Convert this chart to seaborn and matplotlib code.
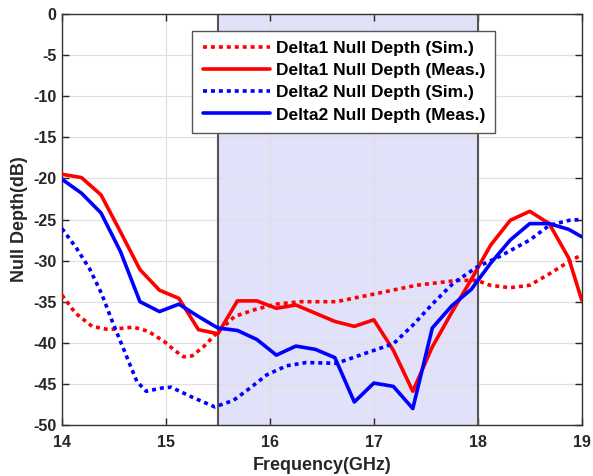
import numpy as np
import pandas as pd
import matplotlib
matplotlib.use("Agg")
import matplotlib.pyplot as plt
import seaborn as sns

# ---------------- data ----------------
freq_meas = [14.0, 14.1875, 14.375, 14.5625, 14.75, 14.9375, 15.125, 15.3125, 15.5,
             15.6875, 15.875, 16.0625, 16.25, 16.4375, 16.625, 16.8125, 17.0, 17.1875,
             17.375, 17.5625, 17.75, 17.9375, 18.125, 18.3125, 18.5, 18.6875, 18.875, 19.0]
delta1_meas = [-19.5, -19.9, -22.0, -26.5, -31.1, -33.6, -34.6, -38.4, -38.9,
               -34.9, -34.9, -35.8, -35.4, -36.4, -37.4, -38.0, -37.2, -40.9,
               -45.9, -40.5, -36.3, -32.3, -28.1, -25.1, -24.0, -25.5, -29.7, -34.8]
delta2_meas = [-20.1, -21.8, -24.2, -28.9, -35.0, -36.2, -35.3, -36.8, -38.2,
               -38.5, -39.6, -41.5, -40.4, -40.8, -41.8, -47.2, -44.9, -45.3,
               -48.0, -38.2, -35.5, -33.5, -30.3, -27.5, -25.5, -25.5, -26.2, -27.1]

freq_sim1 = [14.0, 14.13, 14.29, 14.45, 14.6, 14.69, 14.83, 14.99, 15.08, 15.17, 15.25,
             15.36, 15.49, 15.66, 15.87, 16.06, 16.29, 16.64, 16.99, 17.41, 17.81, 17.99,
             18.12, 18.31, 18.5, 18.69, 18.88, 19.0]
delta1_sim = [-34.2, -36.4, -38.0, -38.4, -38.2, -38.1, -38.6, -39.9, -40.9, -41.7, -41.6,
              -40.5, -38.8, -36.8, -35.9, -35.3, -35.0, -35.0, -34.1, -33.0, -32.4, -32.4,
              -33.0, -33.3, -33.0, -31.6, -30.1, -29.3]

freq_sim2 = [14.0, 14.14, 14.27, 14.38, 14.49, 14.61, 14.72, 14.81, 14.96, 15.05, 15.25,
             15.47, 15.65, 15.81, 15.97, 16.16, 16.35, 16.64, 16.96, 17.19, 17.38, 17.57,
             17.76, 17.99, 18.21, 18.5, 18.69, 18.88, 19.0]
delta2_sim = [-26.1, -28.5, -31.1, -34.0, -37.6, -41.3, -44.7, -45.9, -45.5, -45.4, -46.6,
              -47.8, -47.0, -45.5, -43.9, -42.8, -42.4, -42.5, -41.1, -40.1, -37.8, -35.2,
              -32.8, -30.8, -29.5, -27.5, -25.7, -25.1, -25.0]

band = [15.5, 18.0]
x_ticks = [14, 15, 16, 17, 18, 19]
y_ticks = [0, -5, -10, -15, -20, -25, -30, -35, -40, -45, -50]

labels = ["Delta1 Null Depth (Sim.)", "Delta1 Null Depth (Meas.)",
          "Delta2 Null Depth (Sim.)", "Delta2 Null Depth (Meas.)"]

# ---------------- style ----------------
sns.set_style("white")
plt.rcParams["font.family"] = ["Liberation Sans", "DejaVu Sans"]
plt.rcParams["font.weight"] = "bold"

fig = plt.figure(figsize=(5.93, 4.76), dpi=100)
ax = fig.add_axes([62 / 593, 1 - 425 / 476, (581.7 - 62) / 593, (425 - 14) / 476])

dark = "#262626"
ax.axvspan(band[0], band[1], color="#E1E1FA", zorder=0.3, lw=0)
for b in band:
    ax.axvline(b, color="#555555", lw=1.5, zorder=1)

dotted = (0, (1.1, 1.1))
series = [
    (freq_sim1, delta1_sim, "#FF0000", dotted, labels[0]),
    (freq_meas, delta1_meas, "#FF0000", "-", labels[1]),
    (freq_sim2, delta2_sim, "#0000FF", dotted, labels[2]),
    (freq_meas, delta2_meas, "#0000FF", "-", labels[3]),
]
for fx, fy, col, ls, lab in series:
    df = pd.DataFrame({"f": fx, "v": fy})
    sns.lineplot(data=df, x="f", y="v", ax=ax, color=col, linestyle=ls, lw=2.6,
                 label=lab, zorder=3, sort=False)

ax.set_xlim(14, 19)
ax.set_ylim(-50, 0)
ax.set_xticks(x_ticks)
ax.set_yticks(y_ticks)
ax.set_xticklabels([str(t) for t in x_ticks])
ax.set_yticklabels([str(t) for t in y_ticks])
ax.grid(True, color="#E0E0E0", lw=0.9)
ax.set_axisbelow(True)
ax.tick_params(direction="in", length=5, width=1, colors=dark, labelsize=11.5,
               top=True, right=True, bottom=True, left=True)
ax.tick_params(axis="x", pad=7)
ax.tick_params(axis="y", pad=4)
for lab in ax.get_xticklabels() + ax.get_yticklabels():
    lab.set_fontweight("bold")
for s in ax.spines.values():
    s.set_color("#333333")
    s.set_linewidth(1.0)

ax.set_xlabel("Frequency(GHz)", fontsize=13, fontweight="bold", color=dark, labelpad=5)
ax.set_ylabel("Null Depth(dB)", fontsize=13, fontweight="bold", color=dark, labelpad=4)

leg = ax.legend(loc="upper left", bbox_to_anchor=(0.2507, 0.9594), borderaxespad=0,
                fontsize=12.5, frameon=True, fancybox=False, framealpha=1,
                handlelength=3.9, handletextpad=0.3, labelspacing=0.4,
                borderpad=0.6)
leg.get_frame().set_edgecolor("#555555")
leg.get_frame().set_linewidth(1.0)
for t in leg.get_texts():
    t.set_fontweight("bold")
    t.set_color("black")

fig.savefig("out.png", dpi=100)
